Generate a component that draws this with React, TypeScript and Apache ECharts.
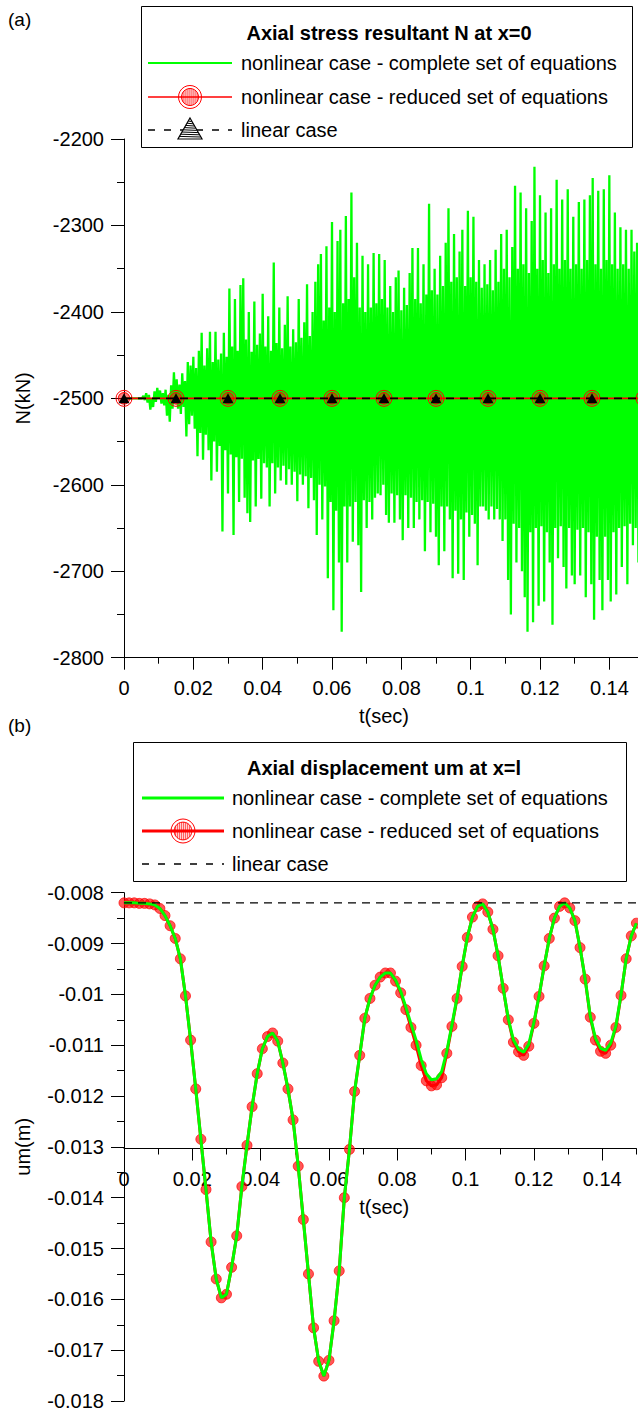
import React, { useEffect, useRef } from 'react';
import * as echarts from 'echarts';

const FONT = '"Liberation Sans", Arial, sans-serif';

// ---------- Panel (a): axial stress resultant N at x=0 ----------
const markerTimesA = [0, 0.015, 0.03, 0.045, 0.06, 0.075, 0.09, 0.105, 0.12, 0.135, 0.15];
const nLinear = -2500;
const peakStepA = 0.0008; // one up/down oscillation per step
// upper peaks of the complete-equations response (kN)
const nUpper = [
  -2500, -2500, -2500, -2500, -2500, -2500, -2500, -2497, -2494, -2496,
  -2500, -2492, -2488, -2491, -2494, -2490, -2496, -2485, -2470, -2478,
  -2484, -2471, -2480, -2458, -2462, -2452, -2465, -2445, -2424, -2462,
  -2442, -2423, -2458, -2423, -2455, -2448, -2424, -2452, -2373, -2440,
  -2385, -2445, -2369, -2361, -2432, -2400, -2446, -2388, -2438, -2425,
  -2379, -2440, -2405, -2445, -2343, -2436, -2395, -2442, -2415, -2382,
  -2440, -2420, -2435, -2385, -2430, -2412, -2368, -2428, -2400, -2365,
  -2345, -2333, -2410, -2324, -2395, -2296, -2400, -2318, -2305, -2390,
  -2289, -2385, -2262, -2360, -2320, -2395, -2335, -2400, -2345, -2395,
  -2332, -2390, -2333, -2385, -2340, -2395, -2370, -2400, -2360, -2352,
  -2398, -2372, -2392, -2355, -2326, -2385, -2326, -2390, -2345, -2380,
  -2275, -2375, -2350, -2380, -2335, -2370, -2320, -2280, -2365, -2310,
  -2360, -2330, -2305, -2370, -2283, -2360, -2290, -2365, -2340, -2372,
  -2345, -2368, -2340, -2375, -2328, -2365, -2310, -2350, -2305, -2360,
  -2325, -2254, -2350, -2262, -2345, -2280, -2355, -2295, -2232, -2350,
  -2265, -2340, -2285, -2355, -2280, -2345, -2247, -2350, -2270, -2340,
  -2258, -2350, -2290, -2345, -2273, -2350, -2270, -2340, -2265, -2245,
  -2345, -2260, -2350, -2258, -2340, -2242, -2345, -2285, -2350, -2302,
  -2345, -2305, -2350, -2305, -2330, -2320,
];
// lower peaks of the complete-equations response (kN)
const nLower = [
  -2500, -2500, -2500, -2500, -2500, -2500, -2500, -2502, -2505, -2513,
  -2510, -2504, -2500, -2506, -2508, -2520, -2527, -2512, -2505, -2512,
  -2518, -2510, -2544, -2530, -2520, -2535, -2567, -2540, -2571, -2542,
  -2560, -2595, -2550, -2585, -2555, -2654, -2560, -2610, -2565, -2658,
  -2568, -2620, -2570, -2615, -2633, -2643, -2572, -2625, -2570, -2616,
  -2575, -2580, -2625, -2575, -2610, -2580, -2595, -2578, -2600, -2582,
  -2600, -2585, -2619, -2588, -2600, -2590, -2627, -2592, -2618, -2658,
  -2600, -2640, -2602, -2708, -2620, -2745, -2630, -2690, -2770, -2625,
  -2690, -2625, -2666, -2620, -2670, -2724, -2618, -2650, -2620, -2640,
  -2615, -2610, -2612, -2600, -2635, -2644, -2610, -2644, -2612, -2640,
  -2664, -2612, -2650, -2615, -2650, -2620, -2640, -2618, -2677, -2620,
  -2655, -2622, -2660, -2693, -2625, -2677, -2625, -2640, -2708, -2630,
  -2703, -2640, -2710, -2632, -2660, -2635, -2645, -2693, -2625, -2625,
  -2630, -2640, -2625, -2640, -2628, -2640, -2665, -2640, -2710, -2750,
  -2645, -2690, -2650, -2700, -2730, -2770, -2655, -2759, -2650, -2740,
  -2648, -2735, -2655, -2690, -2762, -2650, -2685, -2648, -2695, -2720,
  -2650, -2705, -2715, -2652, -2705, -2650, -2730, -2655, -2715, -2756,
  -2660, -2710, -2745, -2660, -2710, -2735, -2655, -2727, -2650, -2695,
  -2648, -2715, -2645, -2670, -2650, -2690,
];

// ---------- Panel (b): axial displacement um at x=l ----------
const stepB = 0.0015;
const umReduced = [
  -0.00820, -0.00820, -0.00820, -0.00821, -0.00821, -0.00822, -0.00824, -0.00831, -0.00845, -0.00865,
  -0.00890, -0.00930, -0.01003, -0.01090, -0.01186, -0.01285, -0.01384, -0.01487, -0.01560, -0.01597,
  -0.01590, -0.01537, -0.01475, -0.01378, -0.01297, -0.01221, -0.01156, -0.01107, -0.01083, -0.01076,
  -0.01092, -0.01135, -0.01186, -0.01247, -0.01338, -0.01443, -0.01550, -0.01656, -0.01722, -0.01751,
  -0.01720, -0.01642, -0.01544, -0.01400, -0.01305, -0.01191, -0.01120, -0.01047, -0.01008, -0.00982,
  -0.00966, -0.00958, -0.00958, -0.00974, -0.00997, -0.01030, -0.01065, -0.01100, -0.01140, -0.01170,
  -0.01180, -0.01178, -0.01164, -0.01116, -0.01063, -0.01008, -0.00945, -0.00888, -0.00848, -0.00827,
  -0.00822, -0.00838, -0.00872, -0.00924, -0.00988, -0.01050, -0.01094, -0.01113, -0.01120, -0.01102,
  -0.01057, -0.01004, -0.00944, -0.00890, -0.00850, -0.00827, -0.00820, -0.00830, -0.00855, -0.00908,
  -0.00970, -0.01045, -0.01090, -0.01112, -0.01116, -0.01100, -0.01065, -0.01002, -0.00930, -0.00885,
  -0.00860,
];
const umComplete = [
  -0.00820, -0.00820, -0.00820, -0.00821, -0.00821, -0.00822, -0.00824, -0.00831, -0.00845, -0.00865,
  -0.00890, -0.00930, -0.01003, -0.01090, -0.01186, -0.01285, -0.01384, -0.01487, -0.01560, -0.01597,
  -0.01590, -0.01537, -0.01475, -0.01378, -0.01297, -0.01221, -0.01156, -0.01107, -0.01083, -0.01076,
  -0.01092, -0.01135, -0.01186, -0.01247, -0.01338, -0.01443, -0.01550, -0.01656, -0.01722, -0.01751,
  -0.01720, -0.01642, -0.01544, -0.01400, -0.01305, -0.01191, -0.01120, -0.01047, -0.01008, -0.00982,
  -0.00966, -0.00958, -0.00958, -0.00972, -0.00994, -0.01025, -0.01058, -0.01090, -0.01128, -0.01156,
  -0.01168, -0.01166, -0.01152, -0.01112, -0.01060, -0.01006, -0.00944, -0.00888, -0.00848, -0.00827,
  -0.00822, -0.00838, -0.00872, -0.00924, -0.00988, -0.01048, -0.01090, -0.01108, -0.01114, -0.01098,
  -0.01055, -0.01003, -0.00944, -0.00890, -0.00850, -0.00827, -0.00820, -0.00830, -0.00855, -0.00908,
  -0.00970, -0.01043, -0.01086, -0.01106, -0.01110, -0.01096, -0.01062, -0.01001, -0.00930, -0.00885,
  -0.00860,
];
const umLinear = -0.0082;

const hatchCircleSymbol =
  'path://M0,-8A8,8,0,1,1,0,8A8,8,0,1,1,0,-8ZM0,-5.8A5.8,5.8,0,1,1,0,5.8A5.8,5.8,0,1,1,0,-5.8Z' +
  'M-4,-4.2L-4,4.2M-2,-5.4L-2,5.4M0,-5.8L0,5.8M2,-5.4L2,5.4M4,-4.2L4,4.2';

const numFmt = (v: number) => String(Number(Number(v).toFixed(6)));

function hatchedCircle(cx: number, cy: number, r: number, color: string) {
  const ri = r * 0.74;
  const els: any[] = [
    { type: 'circle', z: 110, shape: { cx, cy, r }, style: { fill: 'rgba(255,255,255,0)', stroke: color, lineWidth: 1 } },
    { type: 'circle', z: 110, shape: { cx, cy, r: ri }, style: { fill: 'rgba(255,255,255,0)', stroke: color, lineWidth: 1 } },
  ];
  for (let dx = -ri + 1.6; dx < ri - 0.5; dx += 2) {
    const h = Math.sqrt(ri * ri - dx * dx);
    els.push({ type: 'line', z: 110, shape: { x1: cx + dx, y1: cy - h, x2: cx + dx, y2: cy + h }, style: { stroke: color, lineWidth: 0.8 } });
  }
  return els;
}

function hatchedTriangle(cx: number, top: number, w: number, h: number) {
  const els: any[] = [
    { type: 'polygon', z: 110, shape: { points: [[cx, top], [cx + w / 2, top + h], [cx - w / 2, top + h]] }, style: { fill: '#fff', stroke: '#000', lineWidth: 1.2 } },
  ];
  for (let y = top + 3; y < top + h - 0.5; y += 2.2) {
    const hw = ((y - top) / h) * (w / 2);
    els.push({ type: 'line', z: 111, shape: { x1: cx - hw, y1: y, x2: cx + hw, y2: y + 0.6 }, style: { stroke: '#000', lineWidth: 1 } });
  }
  return els;
}

function txt(x: number, y: number, text: string, opts: any = {}) {
  return {
    type: 'text', x, y, z: 111,
    style: {
      text, fill: '#000', font: `${opts.bold ? 'bold ' : ''}${opts.size || 20}px ${FONT}`,
      textAlign: opts.align || 'left', align: opts.align || 'left',
      textVerticalAlign: 'middle', verticalAlign: 'middle',
    },
  };
}

function hline(x1: number, x2: number, y: number, color: string, width: number, dash?: number[]) {
  return { type: 'line', z: 105, shape: { x1, y1: y, x2, y2: y }, style: { stroke: color, lineWidth: width, lineDash: dash } };
}

export default function App() {
  const ref = useRef<HTMLDivElement>(null);
  useEffect(() => {
    if (!ref.current) return;
    const chart = echarts.init(ref.current, undefined, { renderer: 'svg' });

    const greenA: number[][] = [];
    nUpper.forEach((u, i) => {
      greenA.push([i * peakStepA, u]);
      greenA.push([i * peakStepA + peakStepA / 2, nLower[i]]);
    });
    const markersA = markerTimesA.map((t) => [t, nLinear]);
    const redB = umReduced.map((v, i) => [i * stepB, v]);
    const greenB = umComplete.map((v, i) => [i * stepB, v]);

    const axisLine = { show: true, onZero: false, lineStyle: { color: '#000', width: 1 } };
    const lblStyle = { fontSize: 20, fontFamily: FONT, color: '#000' };

    const shortX = (grid: number, gap: number, nameShift: number) => ({
      gridIndex: grid, type: 'value', min: 0, max: 0.15, interval: 0.01, position: 'bottom',
      axisLine, axisTick: { show: true, length: 6, lineStyle: { color: '#000' } },
      axisLabel: { show: false }, splitLine: { show: false },
      name: 't(sec)', nameLocation: 'middle', nameGap: gap,
      nameTextStyle: { ...lblStyle, padding: [0, 0, 0, nameShift] },
    });
    const labelX = (grid: number) => ({
      gridIndex: grid, type: 'value', min: 0, max: 0.14, interval: 0.02, position: 'bottom',
      axisLine: { show: false, onZero: false },
      axisTick: { show: true, length: 12, lineStyle: { color: '#000' } },
      axisLabel: { ...lblStyle, margin: 20, formatter: numFmt }, splitLine: { show: false },
    });
    const hiddenY = (grid: number) => ({ gridIndex: grid, type: 'value', min: 0, max: 1, show: false });

    const option: any = {
      animation: false,
      backgroundColor: '#fff',
      grid: [
        { left: 124, top: 139, width: 520, height: 518.7 },
        { left: 124, top: 892.7, width: 512.4, height: 511.3 },
        { left: 124, top: 892.7, width: 512.4, height: 255.8 },
        { left: 124, top: 139, width: 485.4, height: 518.7 },
        { left: 124, top: 892.7, width: 478.2, height: 255.8 },
      ],
      xAxis: [
        shortX(0, 48, 0),
        { gridIndex: 1, type: 'value', min: 0, max: 0.15, show: false },
        shortX(2, 48, 8),
        labelX(3),
        labelX(4),
      ],
      yAxis: [
        {
          gridIndex: 0, type: 'value', min: -2800, max: -2200, interval: 100,
          axisLine, axisTick: { show: true, length: 13, lineStyle: { color: '#000' } },
          minorTick: { show: true, splitNumber: 2, length: 7, lineStyle: { color: '#000' } },
          axisLabel: { ...lblStyle, margin: 20, formatter: numFmt }, splitLine: { show: false },
          name: 'N(kN)', nameLocation: 'middle', nameGap: 91, nameTextStyle: lblStyle,
        },
        {
          gridIndex: 1, type: 'value', min: -0.018, max: -0.008, interval: 0.001,
          axisLine, axisTick: { show: true, length: 13, lineStyle: { color: '#000' } },
          minorTick: { show: true, splitNumber: 2, length: 7, lineStyle: { color: '#000' } },
          axisLabel: { ...lblStyle, margin: 20, formatter: numFmt }, splitLine: { show: false },
          name: 'um(m)', nameLocation: 'middle', nameGap: 91, nameTextStyle: lblStyle,
        },
        hiddenY(2),
        hiddenY(3),
        hiddenY(4),
      ],
      series: [
        {
          name: 'nonlinear case - complete set of equations (N)', type: 'line', xAxisIndex: 0, yAxisIndex: 0,
          data: greenA, showSymbol: false, symbol: 'none', clip: true, z: 2, silent: true,
          lineStyle: { color: '#00ff00', width: 2.3, join: 'bevel' },
        },
        {
          name: 'nonlinear case - reduced set of equations (N)', type: 'line', xAxisIndex: 0, yAxisIndex: 0,
          data: markersA, symbol: hatchCircleSymbol, symbolSize: 16, showSymbol: true, z: 3, silent: true,
          lineStyle: { color: '#ff0000', width: 1.6 },
          itemStyle: { color: 'rgba(255,0,0,0)', borderColor: '#ff0000', borderWidth: 1 },
        },
        {
          name: 'linear case (N)', type: 'line', xAxisIndex: 0, yAxisIndex: 0,
          data: markersA, symbol: 'triangle', symbolSize: [11, 10], showSymbol: true, z: 4, silent: true,
          lineStyle: { color: '#000', width: 1.6, type: [8, 6] },
          itemStyle: { color: '#000', borderWidth: 0 },
        },
        {
          name: 'nonlinear case - reduced set of equations (um)', type: 'line', xAxisIndex: 1, yAxisIndex: 1,
          data: redB, symbol: 'circle', symbolSize: 10, showSymbol: true, z: 3, silent: true,
          lineStyle: { color: '#ff0000', width: 3 },
          itemStyle: { color: 'rgba(255,0,0,0.66)', borderColor: 'rgba(255,0,0,0.9)', borderWidth: 0.8 },
        },
        {
          name: 'nonlinear case - complete set of equations (um)', type: 'line', xAxisIndex: 1, yAxisIndex: 1,
          data: greenB, showSymbol: false, symbol: 'none', z: 4, silent: true,
          lineStyle: { color: '#00ff00', width: 3 },
        },
        {
          name: 'linear case (um)', type: 'line', xAxisIndex: 1, yAxisIndex: 1,
          data: [[0, umLinear], [0.15, umLinear]], showSymbol: false, symbol: 'none', z: 5, silent: true,
          lineStyle: { color: '#000', width: 1.2, type: [8, 6] },
        },
      ],
      graphic: [
        txt(8, 19, '(a)', { size: 19 }),
        txt(8, 725, '(b)', { size: 19 }),
        // legend (a)
        { type: 'rect', z: 100, shape: { x: 141.5, y: 6.5, width: 491, height: 141 }, style: { fill: '#fff', stroke: '#000', lineWidth: 1 } },
        txt(389, 33, 'Axial stress resultant N at x=0', { bold: true, align: 'center' }),
        hline(148, 232, 63, '#00ff00', 2),
        txt(241, 63, 'nonlinear case - complete set of equations'),
        hline(148, 232, 97, '#ff0000', 1.3),
        ...hatchedCircle(190, 97, 11.5, '#ff0000'),
        txt(241, 97, 'nonlinear case - reduced set of equations'),
        hline(148, 232, 130, '#000', 1.3, [7, 9]),
        ...hatchedTriangle(190, 118, 24, 21),
        txt(241, 130, 'linear case'),
        // legend (b)
        { type: 'rect', z: 100, shape: { x: 133.5, y: 742.5, width: 493, height: 139 }, style: { fill: '#fff', stroke: '#000', lineWidth: 1 } },
        txt(384, 768, 'Axial displacement um at x=l', { bold: true, align: 'center' }),
        hline(142, 224, 798, '#00ff00', 3),
        txt(232, 798, 'nonlinear case - complete set of equations'),
        hline(142, 224, 831, '#ff0000', 3),
        ...hatchedCircle(183, 831, 12, '#ff0000'),
        txt(232, 831, 'nonlinear case - reduced set of equations'),
        hline(142, 224, 864, '#000', 1.3, [7, 9]),
        txt(232, 864, 'linear case'),
      ],
    };
    chart.setOption(option);
    return () => chart.dispose();
  }, []);

  return (
    <div style={{ position: 'absolute', left: 0, top: 0, width: 638, height: 1411, overflow: 'hidden', background: '#fff' }}>
      <div ref={ref} style={{ width: 660, height: 1411 }} />
    </div>
  );
}
